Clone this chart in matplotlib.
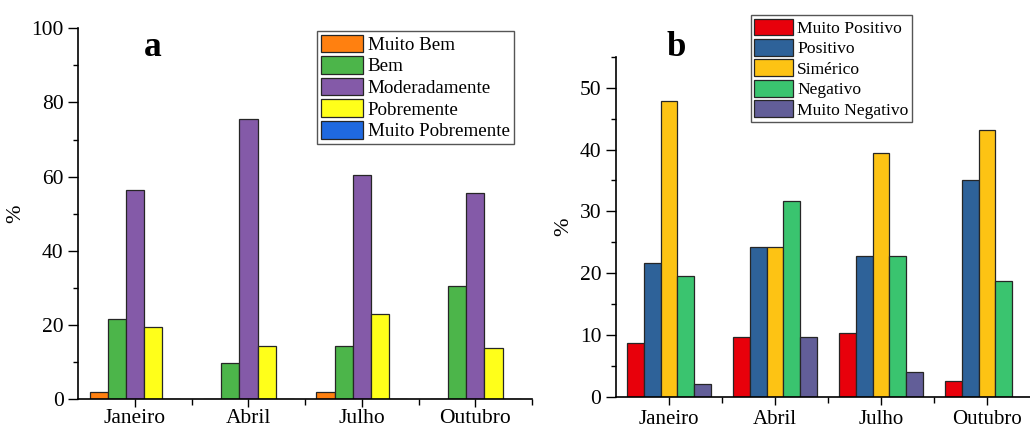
import numpy as np
import matplotlib
matplotlib.use("Agg")
import matplotlib.pyplot as plt
from matplotlib.ticker import MultipleLocator

plt.rcParams['font.family'] = ['Liberation Serif', 'DejaVu Serif']

months = ["Janeiro", "Abril", "Julho", "Outubro"]

# Panel a
labels_a = ["Muito Bem", "Bem", "Moderadamente", "Pobremente", "Muito Pobremente"]
muito_bem = [2.0, 0.0, 2.0, 0.0]
bem = [21.7, 9.8, 14.5, 30.5]
moderadamente = [56.3, 75.6, 60.5, 55.5]
pobremente = [19.5, 14.5, 22.9, 13.9]
muito_pobremente = [0.0, 0.0, 0.0, 0.0]
colors_a = ["#ff8010", "#4cb54a", "#845aa8", "#ffff1a", "#1f69e0"]

# Panel b
labels_b = ["Muito Positivo", "Positivo", "Simérico", "Negativo", "Muito Negativo"]
muito_positivo = [8.7, 9.7, 10.4, 2.6]
positivo = [21.7, 24.3, 22.8, 35.0]
simerico = [47.8, 24.3, 39.5, 43.2]
negativo = [19.5, 31.6, 22.8, 18.8]
muito_negativo = [2.1, 9.7, 4.1, 0.0]
colors_b = ["#e8000b", "#2e6299", "#fdc314", "#3ac46f", "#625e98"]

fig = plt.figure(figsize=(10.3, 4.3), dpi=100)
ax1 = fig.add_axes([78.3/1030, 30.7/430, 453.7/1030, 371/430])
ax2 = fig.add_axes([616/1030, 33/430, 424/1030, 340.3/430])

def draw(ax, series, labels, colors, ylim, major, minor, leg_anchor, leg_fs, hl, hh, xfs, xpad):
    x = np.arange(len(months))
    w = 0.16
    n = len(series)
    for i, (vals, lab, c) in enumerate(zip(series, labels, colors)):
        ax.bar(x + (i - (n - 1) / 2) * w, vals, width=w, color=c,
               edgecolor="#262626", linewidth=0.9, label=lab)
    ax.set_xlim(-0.5, len(months) - 0.5)
    ax.set_ylim(*ylim)
    ax.set_xticks(x)
    ax.set_xticklabels(months, fontsize=xfs)
    ax.set_xticks(np.arange(len(months)) + 0.5, minor=True)
    ax.yaxis.set_major_locator(MultipleLocator(major))
    ax.yaxis.set_minor_locator(MultipleLocator(minor))
    ax.tick_params(axis='y', which='major', length=7, width=1, labelsize=15.5, direction='out')
    ax.tick_params(axis='y', which='minor', length=3.5, width=1, direction='out')
    ax.tick_params(axis='x', which='major', length=5.5, width=1, direction='out', pad=xpad)
    ax.tick_params(axis='x', which='minor', length=4, width=1, direction='out')
    for s in ['top', 'right']:
        ax.spines[s].set_visible(False)
    for s in ['left', 'bottom']:
        ax.spines[s].set_linewidth(1.2)
    ax.set_ylabel("%", fontsize=16)
    leg = ax.legend(loc='upper left', bbox_to_anchor=leg_anchor, borderaxespad=0,
                    fontsize=leg_fs, fancybox=False, edgecolor="#555555",
                    handlelength=hl, handleheight=hh, labelspacing=0.12,
                    handletextpad=0.25, borderpad=0.2, framealpha=1)
    leg.get_frame().set_linewidth(1.0)
    leg.set_clip_on(False)

draw(ax1, [muito_bem, bem, moderadamente, pobremente, muito_pobremente], labels_a, colors_a,
     (0, 100), 20, 10, (0.527, 0.9935), 13.7, 2.2, 1.05, 15.5, 1.5)
draw(ax2, [muito_positivo, positivo, simerico, negativo, muito_negativo], labels_b, colors_b,
     (0, 55), 10, 5, (0.318, 1.1225), 12.6, 2.2, 1.1, 15, 4)

ax1.yaxis.set_label_coords(-0.117, 0.5)
ax2.yaxis.set_label_coords(-0.101, 0.5)

fig.text(153/1030, 1 - 47/430, "a", fontsize=25.5, fontweight='bold', ha='center', va='center')
fig.text(676/1030, 1 - 47/430, "b", fontsize=25, fontweight='bold', ha='center', va='center')

fig.savefig("out.png", dpi=100)
